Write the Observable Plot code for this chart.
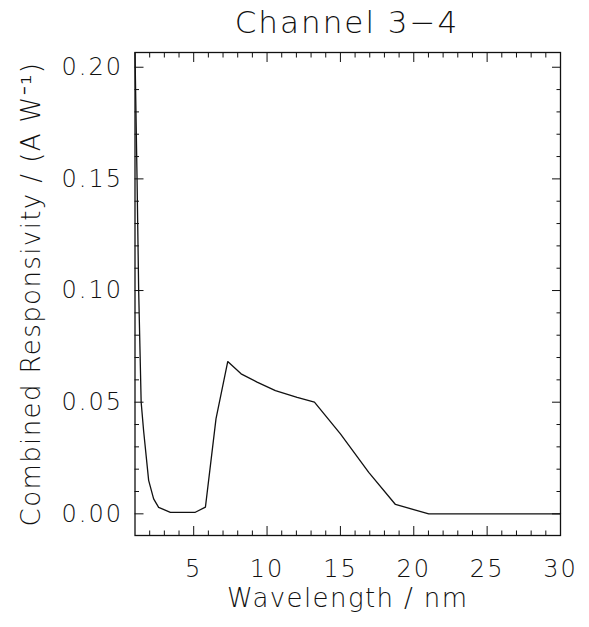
<!DOCTYPE html>
<html>
<head>
<meta charset="utf-8">
<script src="https://cdn.jsdelivr.net/npm/d3@7"></script>
<script src="https://cdn.jsdelivr.net/npm/@observablehq/plot@0.6"></script>
<style>
  html, body { margin: 0; padding: 0; background: #fff; }
  #title { height: 44px; line-height: 44px; font-family: "DejaVu Sans ExtraLight", "DejaVu Sans", sans-serif; font-weight: 200; font-size: 31px; text-align: center; padding-left: 105px; box-sizing: border-box; width: 589px; color: #111; letter-spacing: 2px; }
  svg text { font-weight: 200; }
  svg g[aria-label="y-axis tick label"] text, svg g[aria-label="x-axis tick label"] text { letter-spacing: 2px; }
  svg g[aria-label="text"] text { letter-spacing: 1.4px; }
</style>
</head>
<body>
<div id="title">Channel 3−4</div>
<div id="chart"></div>
<script>
const wavelength = [1.0, 1.14, 1.25, 1.42, 1.59, 1.93, 2.27, 2.61, 3.41, 5.11, 5.80, 6.52, 7.32, 8.23, 9.32, 10.57, 12.05, 13.23, 15.0, 16.93, 18.75, 21.02, 30.0];
const responsivity = [0.2065, 0.15, 0.10, 0.05, 0.037, 0.015, 0.0067, 0.0029, 0.0007, 0.0007, 0.003, 0.0425, 0.0682, 0.0627, 0.059, 0.0552, 0.0522, 0.050, 0.0358, 0.0186, 0.0042, 0.0, 0.0];
const xMajor = [5, 10, 15, 20, 25, 30];
const xMinor = [2, 3, 4, 6, 7, 8, 9, 11, 12, 13, 14, 16, 17, 18, 19, 21, 22, 23, 24, 26, 27, 28, 29];
const yMajor = [0, 0.05, 0.10, 0.15, 0.20];
const yMinor = [0.01, 0.02, 0.03, 0.04, 0.06, 0.07, 0.08, 0.09, 0.11, 0.12, 0.13, 0.14, 0.16, 0.17, 0.18, 0.19];
const xLabel = "Wavelength / nm";
const yLabel = "Combined Responsivity / (A W⁻¹)";

const data = wavelength.map((w, i) => ({w, r: responsivity[i]}));
const font = "'DejaVu Sans ExtraLight', 'DejaVu Sans', sans-serif";

const plot = Plot.plot({
  width: 589,
  height: 583,
  marginLeft: 134.5,
  marginRight: 29,
  marginTop: 8,
  marginBottom: 92,
  style: {fontFamily: font, fontSize: "24px", color: "#111", background: "#fff"},
  x: {domain: [1, 30]},
  y: {domain: [-0.0097, 0.2066]},
  marks: [
    // bottom axis
    Plot.axisX(xMajor, {anchor: "bottom", tickSize: -9, text: null, label: null}),
    Plot.axisX(xMinor, {anchor: "bottom", tickSize: -4.5, text: null, label: null}),
    Plot.axisX(xMajor, {anchor: "bottom", tickSize: 0, tickPadding: 24, fontSize: 24, label: null, tickFormat: d => d}),
    // top axis
    Plot.axisX(xMajor, {anchor: "top", tickSize: -9, text: null, label: null}),
    Plot.axisX(xMinor, {anchor: "top", tickSize: -4.5, text: null, label: null}),
    // left axis
    Plot.axisY(yMajor, {anchor: "left", tickSize: -9, text: null, label: null}),
    Plot.axisY(yMinor, {anchor: "left", tickSize: -4.5, text: null, label: null}),
    Plot.axisY(yMajor, {anchor: "left", tickSize: 0, tickPadding: 12, fontSize: 24, label: null, tickFormat: d3.format(".2f")}),
    // right axis
    Plot.axisY(yMajor, {anchor: "right", tickSize: -9, text: null, label: null}),
    Plot.axisY(yMinor, {anchor: "right", tickSize: -4.5, text: null, label: null}),
    Plot.frame({stroke: "#111", strokeWidth: 1.3}),
    Plot.line(data, {x: "w", y: "r", stroke: "#111", strokeWidth: 1.3}),
    Plot.text([xLabel], {frameAnchor: "bottom", dy: 71, text: d => d, fontSize: 26, lineAnchor: "bottom", fill: "#111"}),
    Plot.text([yLabel], {frameAnchor: "left", dx: -103, text: d => d, fontSize: 26, rotate: -90, textAnchor: "middle", fill: "#111"})
  ]
});
document.getElementById("chart").appendChild(plot);
</script>
</body>
</html>
